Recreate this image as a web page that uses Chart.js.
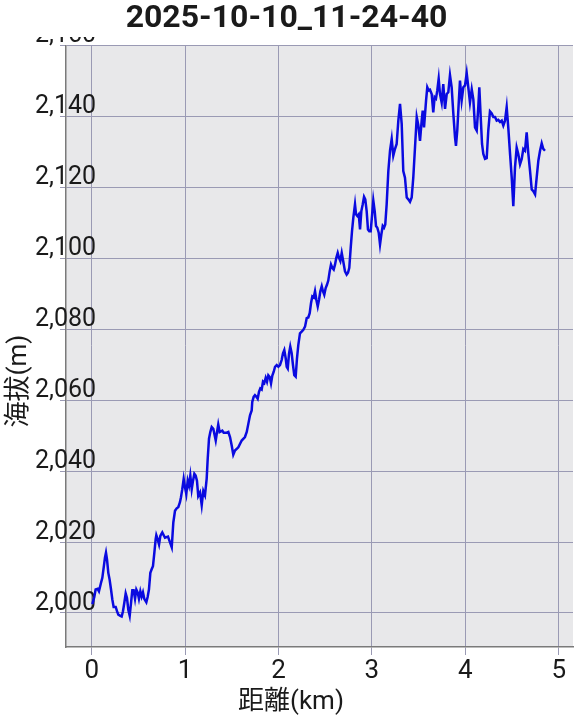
<!DOCTYPE html>
<html>
<head>
<meta charset="utf-8">
<script src="https://cdn.jsdelivr.net/npm/chart.js@4.4.1/dist/chart.umd.min.js"></script>
<style>
  html, body { margin: 0; padding: 0; background: #ffffff; }
  #wrap { width: 579px; height: 728px; }
</style>
</head>
<body>
<div id="wrap"><canvas id="c" width="579" height="728"></canvas></div>
<script>
const chartTitle = "2025-10-10_11-24-40";
const xAxisTitle = "距離(km)";
const yAxisTitle = "海拔(m)";
const xTicks = [0, 1, 2, 3, 4, 5];
const yTicks = [2000, 2020, 2040, 2060, 2080, 2100, 2120, 2140, 2160];

const distanceKm = [
  0.007, 0.028, 0.042, 0.064, 0.078, 0.100, 0.114, 0.128, 0.142, 0.153,
  0.164, 0.178, 0.192, 0.207, 0.221, 0.235, 0.257, 0.271, 0.285, 0.307,
  0.321, 0.335, 0.349, 0.364, 0.378, 0.392, 0.407, 0.421, 0.435, 0.449,
  0.464, 0.478, 0.492, 0.506, 0.521, 0.535, 0.549, 0.563, 0.585, 0.599,
  0.613, 0.628, 0.642, 0.656, 0.671, 0.685, 0.692, 0.706, 0.721, 0.735,
  0.756, 0.785, 0.817, 0.857, 0.874, 0.892, 0.910, 0.927, 0.945, 0.956,
  0.970, 0.985, 0.999, 1.013, 1.028, 1.042, 1.056, 1.071, 1.085, 1.099,
  1.113, 1.127, 1.141, 1.160, 1.178, 1.195, 1.213, 1.231, 1.242, 1.256,
  1.270, 1.285, 1.302, 1.328, 1.342, 1.355, 1.370, 1.398, 1.413, 1.445,
  1.463, 1.481, 1.499, 1.516, 1.534, 1.570, 1.606, 1.641, 1.660, 1.677,
  1.695, 1.713, 1.719, 1.734, 1.748, 1.762, 1.777, 1.791, 1.805, 1.820,
  1.834, 1.848, 1.863, 1.877, 1.891, 1.906, 1.920, 1.934, 1.949, 1.963,
  1.981, 1.998, 2.016, 2.034, 2.048, 2.062, 2.077, 2.088, 2.099, 2.113,
  2.126, 2.141, 2.155, 2.169, 2.184, 2.198, 2.212, 2.230, 2.248, 2.266,
  2.284, 2.302, 2.319, 2.334, 2.348, 2.362, 2.377, 2.391, 2.405, 2.420,
  2.434, 2.448, 2.463, 2.476, 2.490, 2.505, 2.519, 2.533, 2.548, 2.562,
  2.576, 2.591, 2.605, 2.619, 2.634, 2.648, 2.662, 2.677, 2.694, 2.712,
  2.730, 2.744, 2.758, 2.773, 2.787, 2.801, 2.819, 2.830, 2.844, 2.859,
  2.873, 2.887, 2.902, 2.916, 2.929, 2.944, 2.958, 2.972, 2.987, 3.001,
  3.015, 3.030, 3.044, 3.058, 3.073, 3.087, 3.101, 3.116, 3.130, 3.143,
  3.158, 3.176, 3.194, 3.212, 3.229, 3.247, 3.265, 3.283, 3.301, 3.319,
  3.336, 3.354, 3.373, 3.390, 3.408, 3.426, 3.443, 3.462, 3.480, 3.497,
  3.515, 3.533, 3.544, 3.558, 3.580, 3.593, 3.608, 3.622, 3.640, 3.657,
  3.672, 3.686, 3.700, 3.715, 3.729, 3.747, 3.764, 3.783, 3.801, 3.818,
  3.836, 3.854, 3.872, 3.890, 3.900, 3.914, 3.929, 3.943, 3.961, 3.979,
  3.997, 4.015, 4.032, 4.050, 4.069, 4.086, 4.104, 4.122, 4.139, 4.150,
  4.165, 4.179, 4.193, 4.211, 4.229, 4.246, 4.264, 4.283, 4.300, 4.318,
  4.336, 4.353, 4.372, 4.390, 4.407, 4.425, 4.443, 4.460, 4.479, 4.497,
  4.514, 4.532, 4.550, 4.567, 4.586, 4.604, 4.621, 4.639, 4.657, 4.675,
  4.693, 4.711, 4.728, 4.747, 4.764, 4.782, 4.800, 4.818, 4.835, 4.853
];

const elevationM = [
  2002.5, 2004.5, 2006.6, 2006.8, 2006.1, 2008.5, 2009.9, 2012.7, 2015.6, 2017.0,
  2015.1, 2011.3, 2009.4, 2006.6, 2003.8, 2001.7, 2001.7, 2000.5, 1999.5, 1999.2,
  1999.0, 2000.5, 2002.8, 2005.5, 2004.2, 2000.9, 1999.2, 2002.8, 2006.4, 2006.4,
  2004.0, 2006.6, 2005.8, 2004.0, 2006.1, 2004.6, 2005.8, 2004.0, 2003.0, 2004.5,
  2006.6, 2011.3, 2012.3, 2013.2, 2017.0, 2020.8, 2021.9, 2020.8, 2019.3, 2021.7,
  2022.7, 2021.2, 2021.5, 2018.5, 2025.5, 2028.8, 2029.5, 2029.8, 2031.2, 2032.6,
  2034.9, 2037.8, 2035.4, 2033.5, 2037.3, 2035.9, 2038.7, 2034.9, 2037.3, 2039.2,
  2038.7, 2037.3, 2033.0, 2034.0, 2030.4, 2034.4, 2033.2, 2037.8, 2043.4, 2049.1,
  2051.0, 2052.4, 2051.9, 2048.6, 2051.0, 2053.1, 2051.0, 2051.4, 2050.8, 2050.8,
  2051.0, 2049.6, 2047.2, 2044.6, 2045.8, 2046.7, 2048.6, 2049.6, 2051.0, 2053.3,
  2055.7, 2057.1, 2059.5, 2060.9, 2061.4, 2061.0, 2060.4, 2062.3, 2063.3, 2063.0,
  2065.2, 2064.8, 2066.3, 2065.2, 2067.0, 2066.5, 2064.7, 2066.9, 2068.0, 2069.4,
  2069.9, 2069.4, 2069.9, 2071.3, 2073.2, 2074.1, 2071.8, 2069.4, 2068.9, 2073.2,
  2075.1, 2073.2, 2069.9, 2067.0, 2066.6, 2071.8, 2075.5, 2078.8, 2079.3, 2079.8,
  2080.7, 2083.1, 2083.3, 2084.5, 2087.3, 2089.2, 2088.9, 2090.7, 2088.3, 2086.4,
  2088.3, 2090.7, 2092.1, 2090.7, 2089.7, 2091.6, 2092.5, 2093.7, 2096.3, 2098.2,
  2097.3, 2096.8, 2098.2, 2100.1, 2101.5, 2100.1, 2099.2, 2101.5, 2099.0, 2096.3,
  2095.4, 2095.9, 2097.3, 2102.9, 2107.6, 2111.4, 2115.2, 2112.4, 2111.9, 2112.4,
  2108.1, 2113.3, 2115.2, 2117.3, 2116.6, 2113.3, 2108.1, 2107.6, 2107.6, 2111.9,
  2116.3, 2113.3, 2109.1, 2108.6, 2107.2, 2103.9, 2106.7, 2109.1, 2108.6, 2109.5,
  2115.2, 2124.6, 2130.3, 2133.6, 2128.9, 2130.8, 2132.2, 2138.8, 2143.5, 2137.9,
  2124.6, 2122.7, 2117.1, 2116.6, 2115.9, 2117.1, 2122.7, 2131.5, 2139.8, 2137.5,
  2133.1, 2138.8, 2141.6, 2136.9, 2144.5, 2148.2, 2147.3, 2147.5, 2146.3, 2141.1,
  2145.4, 2145.0, 2147.3, 2150.6, 2146.3, 2143.9, 2149.1, 2142.1, 2146.3, 2146.8,
  2151.6, 2148.2, 2140.7, 2134.1, 2131.7, 2136.0, 2143.5, 2150.1, 2144.5, 2148.2,
  2148.7, 2152.2, 2148.2, 2143.9, 2147.6, 2144.8, 2136.9, 2136.0, 2142.6, 2148.2,
  2139.8, 2132.2, 2129.4, 2128.0, 2128.2, 2136.0, 2141.4, 2140.8, 2139.8, 2139.8,
  2138.8, 2139.0, 2138.4, 2138.8, 2137.4, 2138.8, 2142.6, 2136.9, 2129.4, 2122.7,
  2114.7, 2125.6, 2131.2, 2129.4, 2126.5, 2128.0, 2130.8, 2130.3, 2135.5, 2129.4,
  2124.6, 2119.4, 2118.9, 2118.0, 2122.7, 2127.5, 2130.3, 2132.4, 2130.8, 2130.3
];

const points = distanceKm.map((d, i) => ({ x: d, y: elevationM[i] }));

const FONT = 'Roboto, "Noto Sans CJK JP", sans-serif';
const GRID = '#9a9ab4';
const AXIS = '#7a7a7a';

const decor = {
  id: 'decor',
  beforeDraw(chart) {
    const { ctx, chartArea: a } = chart;
    ctx.save();
    ctx.fillStyle = '#e8e8ea';
    ctx.fillRect(a.left, a.top, a.right - a.left, a.bottom - a.top);
    ctx.restore();
  },
  afterDraw(chart) {
    const { ctx } = chart;
    ctx.save();
    // clip the top tick label like the reference
    ctx.fillStyle = '#ffffff';
    ctx.fillRect(0, 0, 110, 37);
    ctx.fillStyle = '#1a1a1a';
    ctx.font = '26px ' + FONT;
    ctx.textAlign = 'center';
    ctx.textBaseline = 'middle';
    ctx.fillText(xAxisTitle, 291, 702);
    ctx.translate(19, 381);
    ctx.rotate(-Math.PI / 2);
    ctx.fillText(yAxisTitle, 0, 0);
    ctx.restore();
  }
};

new Chart(document.getElementById('c'), {
  type: 'line',
  data: {
    datasets: [{
      data: points,
      borderColor: '#0a0ae0',
      borderWidth: 2.5,
      pointRadius: 0,
      tension: 0,
      fill: false
    }]
  },
  options: {
    responsive: false,
    animation: false,
    layout: { padding: { left: 0, right: 6, top: 0, bottom: 0 } },
    plugins: {
      legend: { display: false },
      tooltip: { enabled: false },
      title: {
        display: true,
        text: chartTitle,
        color: '#1a1a1a',
        font: { family: FONT, size: 32, weight: 'bold', lineHeight: 1.2 },
        padding: { top: 0, bottom: 7 }
      }
    },
    scales: {
      x: {
        type: 'linear',
        min: -0.275,
        max: 5.153,
        afterBuildTicks: s => { s.ticks = xTicks.map(v => ({ value: v })); },
        afterFit: s => { s.height = 81; },
        ticks: {
          color: '#1a1a1a',
          font: { family: FONT, size: 26 },
          padding: 1,
          maxRotation: 0,
          callback: v => String(v)
        },
        grid: { color: GRID, lineWidth: 1, tickLength: 8, drawTicks: true },
        border: { color: AXIS, width: 1.5 }
      },
      y: {
        type: 'linear',
        min: 1990.4,
        max: 2160,
        afterBuildTicks: s => { s.ticks = yTicks.map(v => ({ value: v })); },
        afterFit: s => { s.width = 66; },
        ticks: {
          mirror: true,
          color: '#1a1a1a',
          font: { family: FONT, size: 25 },
          padding: -31,
          labelOffset: -9.5,
          callback: v => Number(v).toLocaleString('en-US')
        },
        grid: { color: GRID, lineWidth: 1, tickLength: 6, drawTicks: true },
        border: { color: AXIS, width: 1.5 }
      }
    }
  },
  plugins: [decor]
});
</script>
</body>
</html>
